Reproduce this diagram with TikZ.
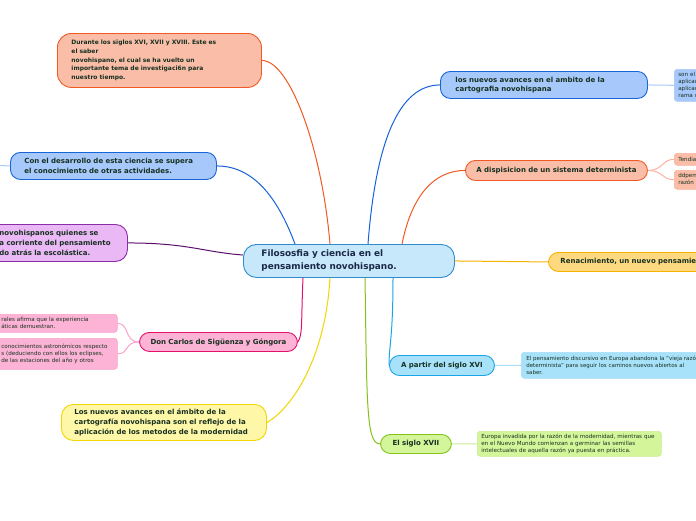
\documentclass[tikz,border=0pt]{standalone}
\usepackage{fontspec}
\setmainfont{DejaVu Sans}
\definecolor{txt}{HTML}{163020}
\definecolor{ctxt}{HTML}{1B2848}
\definecolor{salF}{HTML}{F9BDA8}
\definecolor{salD}{HTML}{F15A24}
\definecolor{salL}{HTML}{FBB3A0}
\definecolor{bluF}{HTML}{A7C8FA}
\definecolor{bluD}{HTML}{1763D8}
\definecolor{bluL}{HTML}{A7C8F5}
\definecolor{purF}{HTML}{EBB8F6}
\definecolor{purD}{HTML}{8A2DA8}
\definecolor{purK}{HTML}{5A0F6C}
\definecolor{pnkF}{HTML}{FDB3D6}
\definecolor{pnkD}{HTML}{E3116C}
\definecolor{pnkL}{HTML}{F9A3CC}
\definecolor{yelF}{HTML}{FFF7A8}
\definecolor{yelD}{HTML}{F2D600}
\definecolor{cenF}{HTML}{C6E8FA}
\definecolor{cenD}{HTML}{2E8BD0}
\definecolor{renF}{HTML}{FFD97F}
\definecolor{renD}{HTML}{F9B200}
\definecolor{cyaF}{HTML}{A8E2FA}
\definecolor{cyaD}{HTML}{19A5E6}
\definecolor{cyaL}{HTML}{A8DEF6}
\definecolor{grnF}{HTML}{D4F59A}
\definecolor{grnD}{HTML}{84C21A}
\definecolor{grnL}{HTML}{CDEB98}
\tikzset{
  base/.style={anchor=north west, align=left, inner ysep=0pt, text=txt,
    font=\bfseries\fontsize{7}{9.6}\selectfont, line width=0.9pt},
  pill/.style={base, rounded corners=10pt},
  leaf/.style={anchor=north west, align=left, inner ysep=0pt, inner xsep=4pt,
    text=txt, font=\fontsize{5.6}{7}\selectfont, line width=0.6pt, rounded corners=3pt},
  link/.style={line width=1pt},
  thin link/.style={line width=1pt},
}
\begin{document}
\begin{tikzpicture}[x=1pt,y=-1pt]
\useasboundingbox (0,0) rectangle (696,520);
\fill[white] (0,0) rectangle (696,520);
\clip (0,0) rectangle (696,520);

% central node
\node[pill, rounded corners=13pt, fill=cenF, draw=cenD, text=ctxt,
  font=\bfseries\fontsize{8.9}{13}\selectfont,
  minimum height=33pt, text width=175pt, inner xsep=18pt] (c) at (243,244)
  {Filososfia y ciencia en el\\pensamiento novohispano.};

% left side
\node[pill, rounded corners=14pt, fill=salF, draw=salD,
  font=\bfseries\fontsize{6.0}{8.8}\selectfont,
  minimum height=54pt, text width=176pt, inner xsep=14pt] (n1) at (57,33)
  {Durante los siglos XVI, XVII y XVIII. Este es\\el saber\\novohispano, el cual se ha vuelto un\\importante tema de investigaci6n para\\nuestro tiempo.};
\node[pill, fill=bluF, draw=bluD,
  minimum height=27pt, text width=178pt, inner xsep=14pt] (n2) at (10,152)
  {Con el desarrollo de esta ciencia se supera\\el conocimiento de otras actividades.};
\coordinate (offL) at (0,165.5);
\node[pill, rounded corners=12pt, fill=purF, draw=purD,
  minimum height=37pt, text width=116pt, inner xsep=12pt] (n3) at (-13,224)
  {novohispanos quienes se\\a corriente del pensamiento\\do atrás la escolástica.};
\node[pill, fill=pnkF, draw=pnkD, align=center,
  minimum height=19pt, text width=146pt, inner xsep=6pt] (n4) at (139,332)
  {Don Carlos de Sigüenza y Góngora};
\node[leaf, fill=pnkF, draw=pnkL, minimum height=18pt, text width=112pt] (n4a) at (-3,314)
  {rales afirma que la experiencia\\áticas demuestran.};
\node[leaf, fill=pnkF, draw=pnkL, minimum height=31pt, text width=112pt] (n4b) at (-3,338)
  {conocimientos astronómicos respecto\\s (deduciendo con ellos los eclipses,\\de las estaciones del año y otros};
\node[pill, rounded corners=12pt, fill=yelF, draw=yelD,
  minimum height=36pt, text width=179pt, inner xsep=13pt] (n5) at (61,404)
  {Los nuevos avances en el ámbito de la\\cartografía novohispana son el reflejo de la\\aplicación de los metodos de la modernidad};

% right side
\node[pill, fill=bluF, draw=bluD,
  minimum height=27pt, text width=177pt, inner xsep=15pt] (n6) at (440,71)
  {los nuevos avances en el ambito de la\\cartografia novohispana};
\node[leaf, fill=bluF, draw=bluL, minimum height=32pt, text width=60pt] (n6c) at (674,69)
  {son el\\aplicac\\aplicac\\rama c};
\node[pill, fill=salF, draw=salD, align=center,
  minimum height=20pt, text width=170pt, inner xsep=6pt] (n7) at (465,160)
  {A dispisicion de un sistema determinista};
\node[leaf, fill=salF, draw=salL, minimum height=12pt, text width=40pt] (n7a) at (674,153)
  {Tendia};
\node[leaf, fill=salF, draw=salL, minimum height=19pt, text width=40pt] (n7b) at (674,170)
  {ddpem\\razón p};
\node[pill, fill=renF, draw=renD,
  minimum height=19pt, text width=200pt, inner xsep=12pt] (n8) at (548,252)
  {Renacimiento, un nuevo pensamiento};
\node[pill, fill=cyaF, draw=cyaD, align=center,
  minimum height=20pt, text width=93pt, inner xsep=6pt] (n9) at (389,355)
  {A partir del siglo XVI};
\node[leaf, fill=cyaF, draw=cyaL, minimum height=26pt, text width=200pt, inner xsep=5pt,
  font=\fontsize{5.5}{7}\selectfont] (n9c) at (521,352)
  {El pensamiento discursivo en Europa abandona la "vieja razón"\\determinista" para seguir los caminos nuevos abiertos al\\saber.};
\node[pill, fill=grnF, draw=grnD, align=center,
  minimum height=19pt, text width=61pt, inner xsep=5pt] (n10) at (380,434)
  {El siglo XVII};
\node[leaf, fill=grnF, draw=grnL, minimum height=25pt, text width=176pt, inner xsep=4pt] (n10c) at (477,431)
  {Europa invadida por la razón de la modernidad, mientras que\\en el Nuevo Mundo comienzan a germinar las semillas\\intelectuales de aquella razón ya puesta en práctica.};

% anchor points on the central node
\coordinate (cT1) at ([xshift=87pt]c.north west);
\coordinate (cT2) at ([xshift=52pt]c.north west);
\coordinate (cT3) at ([xshift=125pt]c.north west);
\coordinate (cT4) at ([xshift=159pt]c.north west);
\coordinate (cL) at ([yshift=-11pt]c.north west);
\coordinate (cB1) at ([xshift=60pt]c.south west);
\coordinate (cB2) at ([xshift=87pt]c.south west);
\coordinate (cB3) at ([xshift=122pt]c.south west);
\coordinate (cB4) at ([xshift=150pt]c.south west);

% main connectors
\draw[link, salD] (n1.east) .. controls +(28,0) and +(-8,-95) .. (cT1);
\draw[link, bluD] (n2.east) .. controls +(40,0) and +(-15,-40) .. (cT2);
\draw[link, purK] (n3.east) .. controls +(60,0) and +(-40,-3) .. (cL);
\draw[link, pnkD] (cB1) .. controls +(-2,45) and +(5,-8) .. (n4.east);
\draw[link, yelD] (cB2) .. controls +(-5,85) and +(22,-12) .. (n5.east);
\draw[link, bluD] (cT3) .. controls +(8,-105) and +(-40,0) .. (n6.west);
\draw[link, salD] (cT4) .. controls +(10,-50) and +(-30,0) .. (n7.west);
\draw[link, renD] (c.east) -- (n8.west);
\draw[link, cyaD] (cB4) .. controls +(0,60) and +(0,-20) .. (n9.west);
\draw[link, grnD] (cB3) .. controls +(2,125) and +(-14,0) .. (n10.west);

% sub connectors
\draw[thin link, bluL] (n2.west) -- (offL);
\draw[thin link, bluL] (n6.east) -- (n6c.west);
\draw[thin link, salL] (n7.east) .. controls +(15,0) and +(-12,0) .. (n7a.west);
\draw[thin link, salL] (n7.east) .. controls +(15,0) and +(-12,0) .. (n7b.west);
\draw[thin link, pnkL] (n4.west) .. controls +(-15,0) and +(12,0) .. (n4a.east);
\draw[thin link, pnkL] (n4.west) .. controls +(-15,0) and +(12,0) .. (n4b.east);
\draw[thin link, cyaL] (n9.east) -- (n9c.west);
\draw[thin link, grnL] (n10.east) -- (n10c.west);
\end{tikzpicture}
\end{document}
